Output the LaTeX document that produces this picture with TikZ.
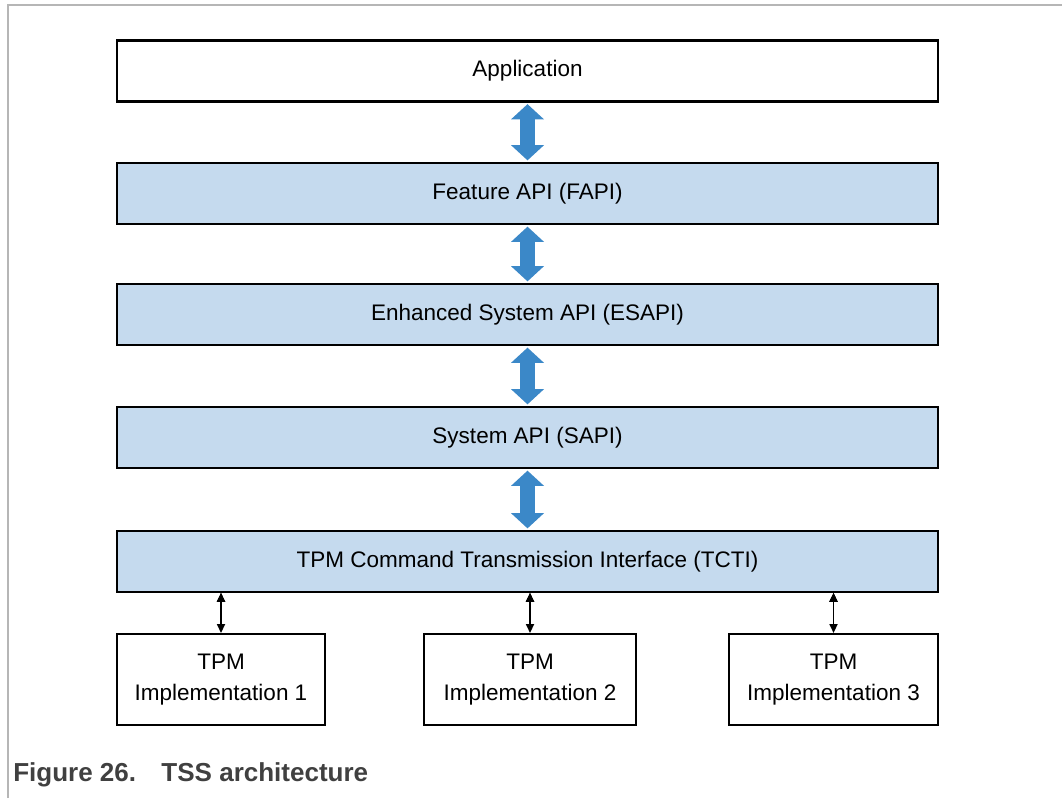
\documentclass[tikz,border=0pt]{standalone}
\usepackage{fontspec}
\setmainfont{Liberation Sans}
\usetikzlibrary{arrows.meta}
\definecolor{layerblue}{RGB}{197,218,238}
\definecolor{arrowblue}{RGB}{59,136,200}
\definecolor{framegray}{RGB}{182,182,182}
\definecolor{captiongray}{RGB}{64,64,64}

\begin{document}
\begin{tikzpicture}[x=0.025cm,y=-0.025cm,
  layer/.style={draw,line width=1.5pt,minimum width=20.525cm,minimum height=1.525cm,inner sep=0pt,font=\fontsize{16}{19}\selectfont},
  impl/.style={draw,line width=1.5pt,minimum height=2.275cm,inner sep=0pt,align=center,font=\fontsize{16}{21.5}\selectfont},
  bigarrow/.style={color=arrowblue,line width=0.375cm,{Triangle[width=0.825cm,length=0.38cm,line width=0pt]}-{Triangle[width=0.825cm,length=0.38cm,line width=0pt]},shorten <=0.04cm,shorten >=0.04cm},
  smallarrow/.style={draw,line width=1.2pt,{Triangle[width=0.2cm,length=0.22cm]}-{Triangle[width=0.2cm,length=0.22cm]}}]
\useasboundingbox (0,0) rectangle (1062,798);
\draw[framegray,line width=1.1pt] (8,798) -- (8,5) -- (1062,5);

\path (527.5,71) node[layer] (app) {Application};
\path (527.5,193.5) node[layer,fill=layerblue] (fapi) {Feature API (FAPI)};
\path (527.5,314.5) node[layer,fill=layerblue] (esapi) {Enhanced System API (ESAPI)};
\path (527.5,437.5) node[layer,fill=layerblue] (sapi) {System API (SAPI)};
\path (527.5,561.5) node[layer,fill=layerblue] (tcti) {TPM Command Transmission Interface (TCTI)};

\path (221,679.5) node[impl,minimum width=5.2cm] (tpma) {TPM\\Implementation 1};
\path (530,679.5) node[impl,minimum width=5.3cm] (tpmb) {TPM\\Implementation 2};
\path (833.5,679.5) node[impl,minimum width=5.225cm] (tpmc) {TPM\\Implementation 3};

\path[bigarrow] (app) edge (fapi);
\path[bigarrow] (fapi) edge (esapi);
\path[bigarrow] (esapi) edge (sapi);
\path[bigarrow] (sapi) edge (tcti);

\path[smallarrow] (tpma.north |- tcti.south) edge (tpma.north);
\path[smallarrow] (tpmb.north |- tcti.south) edge (tpmb.north);
\path[smallarrow] (tpmc.north |- tcti.south) edge (tpmc.north);

\path (13,781) node[anchor=base west,inner sep=0pt,text=captiongray,font=\fontsize{18.5}{21}\selectfont\bfseries] (caption) {Figure 26.\hspace{18pt}TSS architecture};
\end{tikzpicture}
\end{document}
